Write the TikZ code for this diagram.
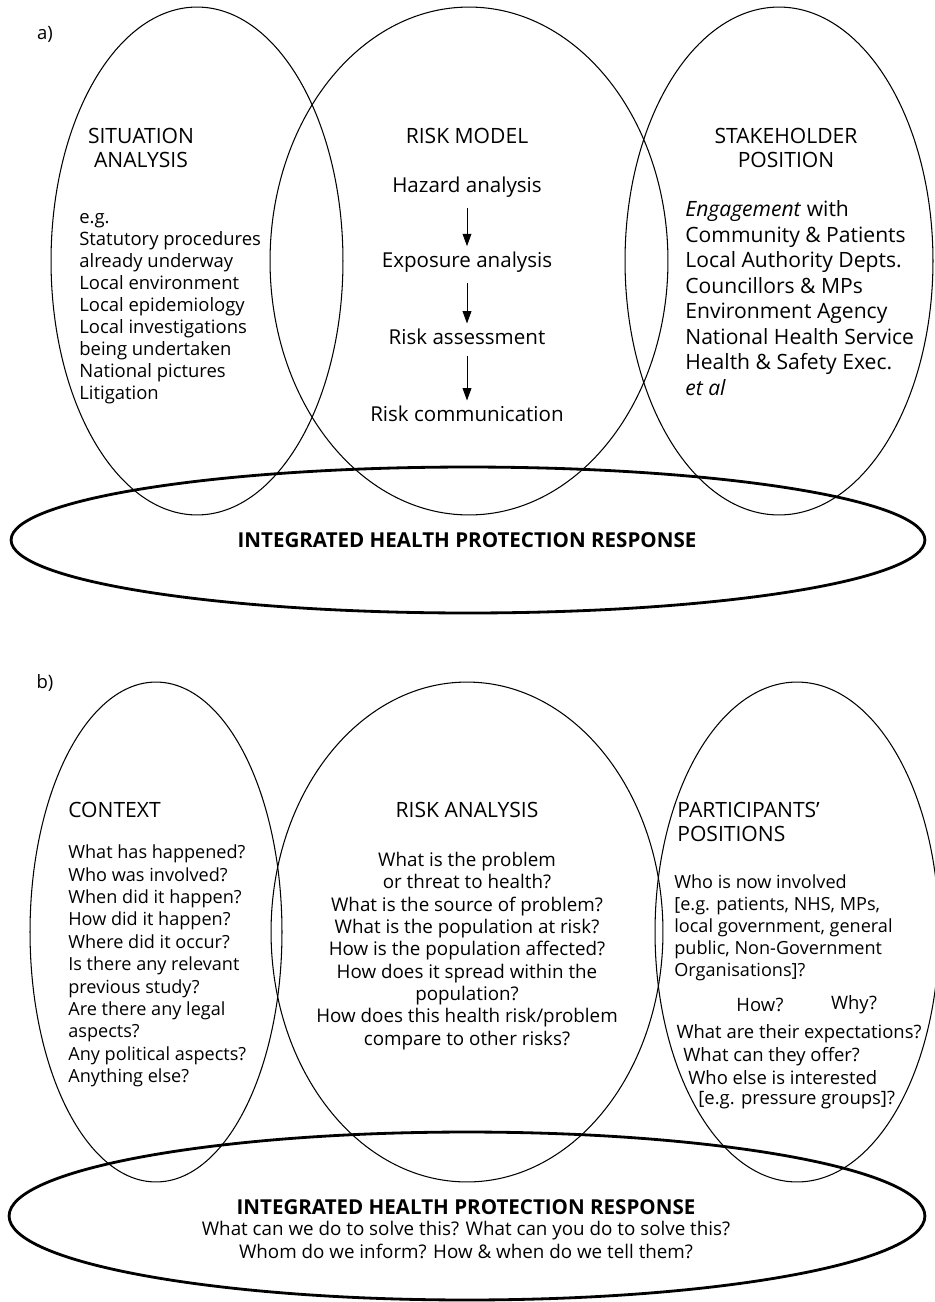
\documentclass[tikz,border=0pt]{standalone}
\usepackage{fontspec}
\setmainfont{Open Sans}
\usepackage{tikz}
\usetikzlibrary{shapes.geometric, arrows.meta}
\tikzstyle{bubble} = [draw=black, line width=0.6pt]
\tikzstyle{response} = [draw=black, line width=1.6pt]
\tikzstyle{tag} = [inner sep=0pt, font=\fontsize{10.5}{12}\selectfont]
\tikzstyle{heading} = [inner sep=0pt, align=center, font=\fontsize{12}{13.6}\selectfont]
\tikzstyle{body} = [inner sep=0pt, align=left, anchor=west, font=\fontsize{10.5}{12.5}\selectfont]
\tikzstyle{stepnode} = [inner sep=3pt, font=\fontsize{11.7}{13}\selectfont]
\tikzstyle{line} = [inner sep=0pt, font=\fontsize{10.5}{12}\selectfont]
\tikzstyle{flow} = [-{Triangle[length=7pt,width=5pt]}, line width=0.5pt, shorten <=3pt]
\tikzstyle{banner} = [inner sep=0pt, font=\bfseries\fontsize{11.7}{13}\selectfont]

\begin{document}
\begin{tikzpicture}[x=0.02cm,y=-0.02cm]
\useasboundingbox (0,0) rectangle (934,1302);
% a)
\node (taga) at (45,34) [tag] {a)};
\draw[bubble] (197,261) ellipse (2.92cm and 5.08cm);
\draw[bubble] (469,261) ellipse (3.98cm and 5.08cm);
\draw[bubble] (779,261) ellipse (3.08cm and 5.08cm);
\draw[response] (468,540) ellipse (9.14cm and 1.46cm);

\node (sit) at (141,148) [heading] {SITUATION\\ANALYSIS};
\node (sitlist) at (79,309) [body] {e.g.\\Statutory procedures\\already underway\\Local environment\\Local epidemiology\\Local investigations\\being undertaken\\National pictures\\Litigation};

\node (model) at (467,136) [heading] {RISK MODEL};
\node (haz) at (467,187) [stepnode] {Hazard analysis};
\node (expo) at (467,262) [stepnode] {Exposure analysis};
\node (assess) at (467,337) [stepnode] {Risk assessment};
\node (comm) at (467,414) [stepnode] {Risk communication};
\draw[flow] (haz) -- (expo);
\draw[flow] (expo) -- (assess);
\draw[flow] (assess) -- (comm);

\node (stake) at (786,148) [heading] {STAKEHOLDER\\POSITION};
\node (stakelist) at (685,298) [body, font=\fontsize{12}{14.5}\selectfont] {\textit{Engagement} with\\Community \& Patients\\Local Authority Depts.\\Councillors \& MPs\\Environment Agency\\National Health Service\\Health \& Safety Exec.\\\textit{et al}};

\node (ihpa) at (467,540) [banner] {INTEGRATED HEALTH PROTECTION RESPONSE};

% b)
\node (tagb) at (45,683) [tag] {b)};
\draw[bubble] (156,932) ellipse (2.52cm and 5.00cm);
\draw[bubble] (467,932) ellipse (3.92cm and 5.00cm);
\draw[bubble] (797,932) ellipse (2.84cm and 5.00cm);
\draw[response] (467,1216) ellipse (9.16cm and 1.68cm);

\node (ctx) at (68,810) [heading, anchor=west] {CONTEXT};
\node (ctxlist) at (68,966) [body, font=\fontsize{10.3}{12.75}\selectfont] {What has happened?\\Who was involved?\\When did it happen?\\How did it happen?\\Where did it occur?\\Is there any relevant\\previous study?\\Are there any legal\\aspects?\\Any political aspects?\\Anything else?};

\node (ana) at (467,810) [heading] {RISK ANALYSIS};
\node (analist) at (467,951) [body, align=center, anchor=center, font=\fontsize{10.7}{12.7}\selectfont] {What is the problem\\or threat to health?\\What is the source of problem?\\What is the population at risk?\\How is the population affected?\\How does it spread within the\\population?\\How does this health risk/problem\\compare to other risks?};

\node (part) at (677,822) [heading, anchor=west, align=left] {PARTICIPANTS’\\POSITIONS};
\node (partlist) at (674,928) [body, font=\fontsize{10.3}{12.6}\selectfont] {Who is now involved\\{}[e.g. patients, NHS, MPs,\\local government, general\\public, Non-Government\\Organisations]?};
\node (how) at (760,1005) [line] {How?};
\node (why) at (854,1005) [line] {Why?};
\node (expect) at (799,1034) [line] {What are their expectations?};
\node (offer) at (683,1057) [line, anchor=west] {What can they offer?};
\node (others) at (688,1078) [line, anchor=west] {Who else is interested};
\node (press) at (698,1100) [line, anchor=west] {[e.g. pressure groups]?};

\node (ihpb) at (466,1207) [banner] {INTEGRATED HEALTH PROTECTION RESPONSE};
\node (ihpq) at (466,1240) [body, align=center, anchor=center, font=\fontsize{10.7}{13.6}\selectfont] {What can we do to solve this? What can you do to solve this?\\Whom do we inform? How \& when do we tell them?};
\end{tikzpicture}
\end{document}
